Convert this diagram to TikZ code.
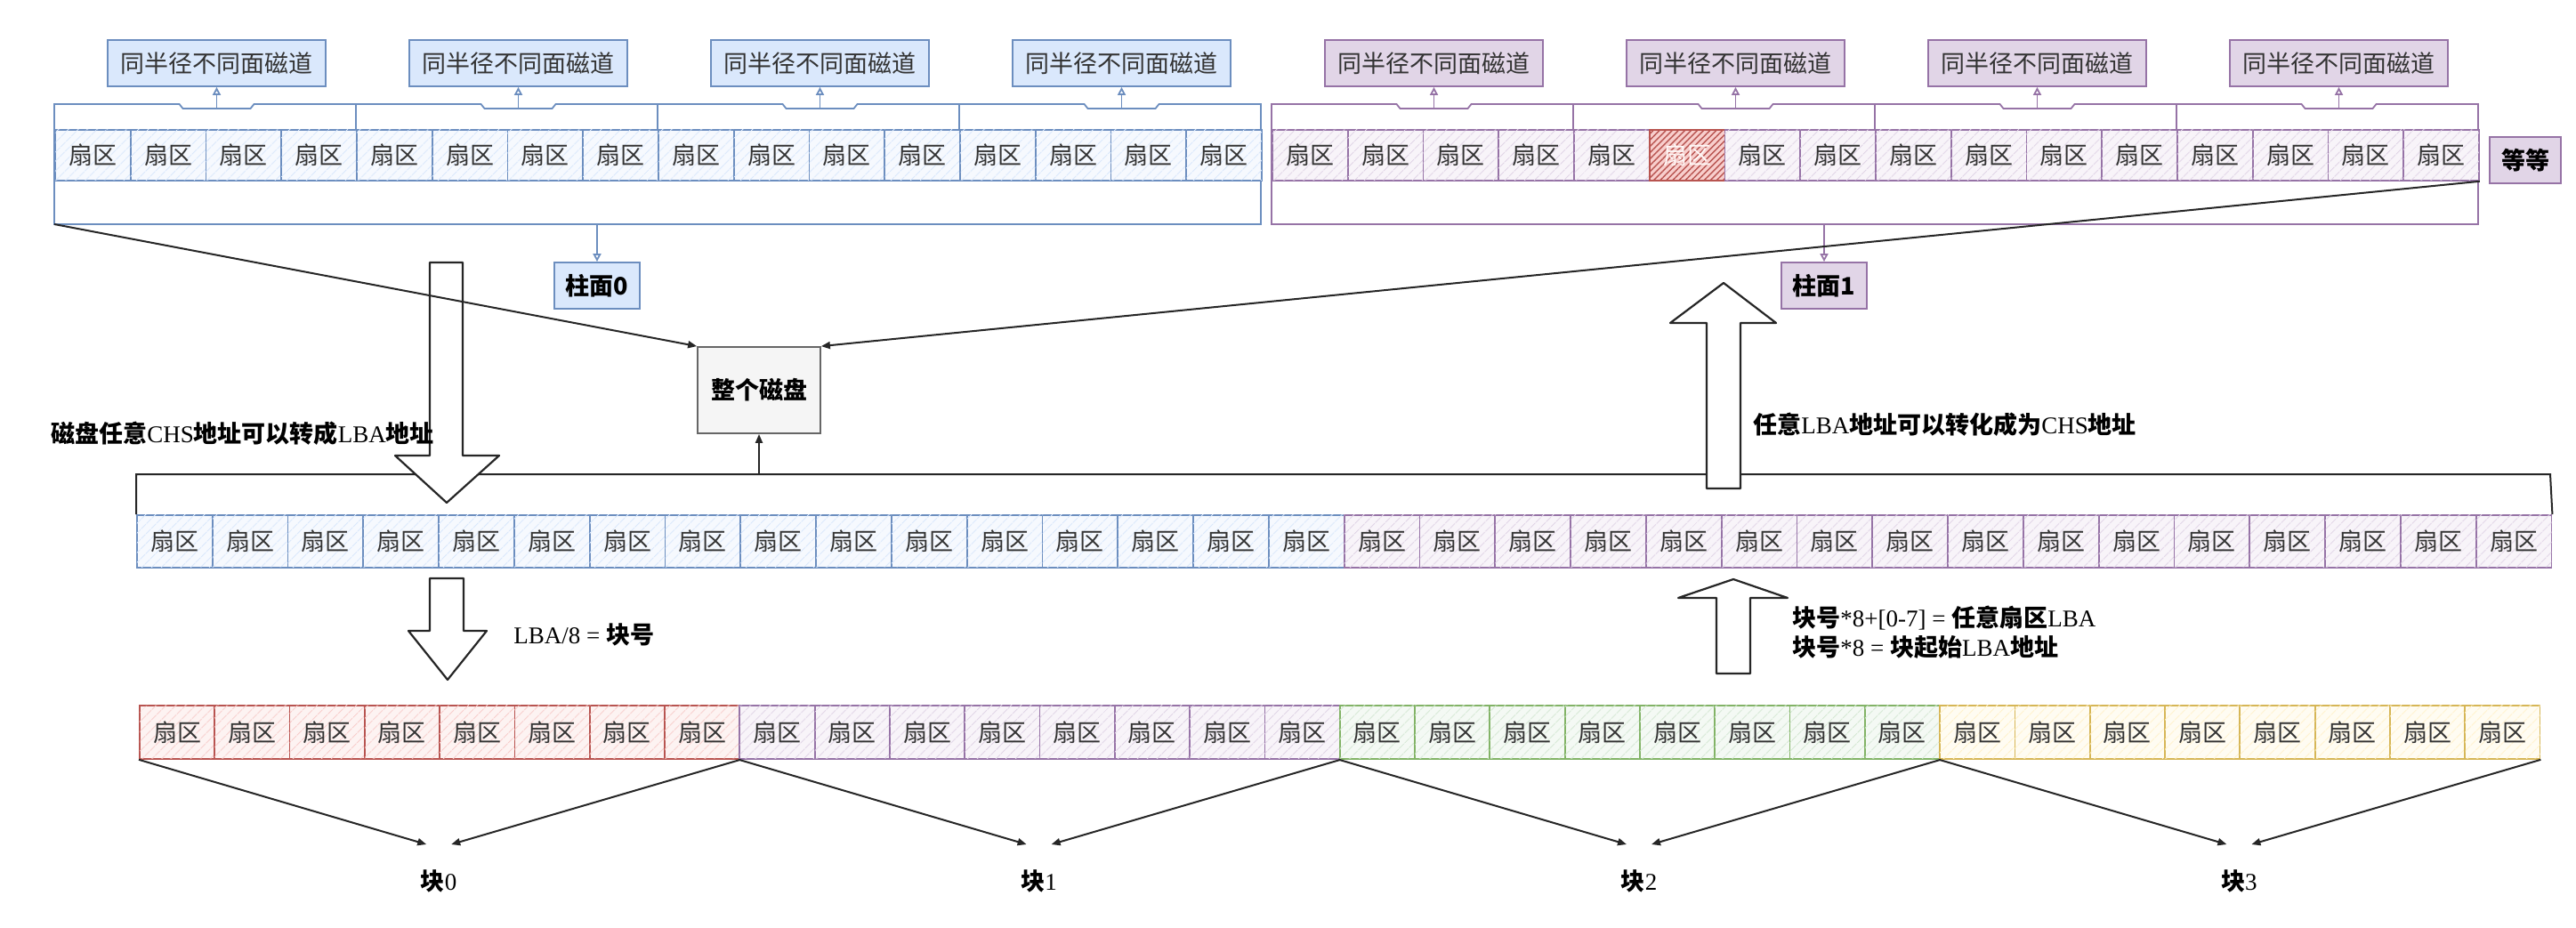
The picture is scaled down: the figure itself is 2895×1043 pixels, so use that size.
\documentclass[tikz,border=0pt]{standalone}
\usepackage{fontspec}
\setmainfont{Liberation Serif}
\newfontfamily\cjk{Noto Sans CJK SC}
\usetikzlibrary{arrows.meta,patterns.meta}

\definecolor{Fblue}{HTML}{DAE8FC}   \definecolor{Lblue}{HTML}{6C8EBF}
\definecolor{Fpurple}{HTML}{E1D5E7} \definecolor{Lpurple}{HTML}{9673A6}
\definecolor{Fred}{HTML}{F8CECC}    \definecolor{Lred}{HTML}{B85450}
\definecolor{Fgreen}{HTML}{D5E8D4}  \definecolor{Lgreen}{HTML}{82B366}
\definecolor{Fyellow}{HTML}{FFF2CC} \definecolor{Lyellow}{HTML}{D6B656}
\definecolor{Fgrey}{HTML}{F5F5F5}   \definecolor{Lgrey}{HTML}{666666}

\newcommand\zh[1]{{\cjk\bfseries #1}}

\tikzset{
  sector/.style={draw=L#1, line width=0.9pt, fill=F#1!25,
    postaction={pattern={Lines[angle=45, distance=4pt, line width=0.6pt]},
      pattern color=F#1},
    anchor=north west, inner sep=0pt, text=black!80,
    font=\cjk\fontsize{13.5}{14}\selectfont},
  hotsector/.style={draw=Lred, line width=1.2pt, fill=Fred,
    postaction={pattern={Lines[angle=45, distance=2.5pt, line width=0.7pt]},
      pattern color=Lred},
    anchor=north west, inner sep=0pt, text=white!85!Fred,
    font=\cjk\fontsize{13.5}{14}\selectfont},
  tag/.style={draw=L#1, fill=F#1, line width=0.9pt, inner sep=0pt,
    minimum width=122.5pt, minimum height=26pt, text=black!80,
    font=\cjk\fontsize{13.5}{14}\selectfont},
  cylbox/.style={draw=L#1, fill=F#1, line width=0.9pt, inner sep=0pt,
    minimum width=48pt, minimum height=26pt,
    font=\cjk\bfseries\fontsize{13.5}{14}\selectfont},
  diskbox/.style={draw=Lgrey, fill=Fgrey, line width=0.9pt, inner sep=0pt,
    minimum width=69pt, minimum height=48.5pt,
    font=\cjk\bfseries\fontsize{13.5}{14}\selectfont},
  outline/.style={draw=L#1, line width=0.9pt},
  tagarrow/.style={draw=L#1, line width=0.9pt, -{Triangle[open,length=4.5pt,width=4.5pt]}},
  link/.style={draw=black!85, line width=1pt, -{Triangle[length=5pt,width=4pt]}},
  bracket/.style={draw=black!85, line width=1pt},
  hollow/.style={draw=black!85, fill=white, line width=1.1pt, line join=round},
  note/.style={inner sep=0pt, align=left, anchor=west,
    font=\fontsize{13.5}{16.5}\selectfont},
}

\begin{document}
\begin{tikzpicture}[x=0.5pt, y=-0.5pt]
    \useasboundingbox (0,0) rectangle (2895,1043);

    % cylinders 0 and 1: four tracks of four sectors each
    \foreach \cyl/\L/\col/\hot in {0/61/blue/-1, 1/1429/purple/5} {
        \draw[outline=\col] (\L,117) -- (\L,252) -- (\L+1356,252) -- (\L+1356,117);
        \foreach \g in {0,...,3} {
            \pgfmathsetmacro\gx{\L+339*\g}
            \pgfmathsetmacro\tx{\gx+182.5}
            \draw[outline=\col] (\gx,145) -- (\gx,117) -- (\tx-42,117) -- (\tx-38,122)
                -- (\tx+38,122) -- (\tx+42,117) -- (\gx+339,117) -- (\gx+339,145);
            \node[tag=\col] (t\cyl\g) at (\tx,71) {同半径不同面磁道};
            \coordinate (n\cyl\g) at (\tx,122);
            \draw[tagarrow=\col] (n\cyl\g) -- (t\cyl\g);
        }
        \foreach \k in {0,...,15} {
            \ifnum\k=\hot\relax
                \node[hotsector, minimum width=42.375pt, minimum height=28.5pt]
                    (c\cyl s\k) at (\L+84.75*\k,145) {扇区};
            \else
                \node[sector=\col, minimum width=42.375pt, minimum height=28.5pt]
                    (c\cyl s\k) at (\L+84.75*\k,145) {扇区};
            \fi
        }
    }

    \node[cylbox=blue] (z0) at (671,321) {柱面0};
    \coordinate (zt0) at (671,252);
    \draw[tagarrow=blue] (zt0) -- (z0);
    \node[cylbox=purple] (z1) at (2050,321) {柱面1};
    \coordinate (zt1) at (2050,252);
    \draw[tagarrow=purple] (zt1) -- (z1);
    \node[cylbox=purple, minimum width=40pt] (etc) at (2838,180) {等等};

    \node[diskbox] (disk) at (853,438.5) {整个磁盘};

    % LBA row
    \foreach \k in {0,...,31} {
        \ifnum\k<16 \def\col{blue}\else\def\col{purple}\fi
        \node[sector=\col, minimum width=42.4pt, minimum height=29.5pt]
            (r\k) at (153+84.8*\k,578) {扇区};
    }
    \coordinate (brl) at (153,533);
    \coordinate (brr) at (2866,533);
    \coordinate (brm) at (853,533);
    \draw[bracket] (r0.north west) -- (brl) -- (brr) -- (r31.north east);
    \draw[link] (brm) -- (disk);

    % block row
    \foreach \bk/\col in {0/red, 1/purple, 2/green, 3/yellow} {
        \foreach \s in {0,...,7} {
            \node[sector=\col, minimum width=42.15pt, minimum height=30pt]
                (blk\bk s\s) at (156+674.4*\bk+84.3*\s,792) {扇区};
        }
        \node[note, anchor=center] (b\bk) at (493.2+674.4*\bk,990) {\zh{块}\bk};
        \coordinate (bl\bk) at (479.2+674.4*\bk,949);
        \coordinate (br\bk) at (507.2+674.4*\bk,949);
    }

    % hollow arrows
    \draw[hollow] (483,295) -- (520,295) -- (520,512) -- (561,512) -- (502,565)
        -- (444,512) -- (483,512) -- cycle;
    \draw[hollow] (483,650) -- (521,650) -- (521,709) -- (547,709) -- (503,764)
        -- (459,709) -- (483,709) -- cycle;
    \draw[hollow] (1918,549) -- (1918,363) -- (1877,363) -- (1937,318) -- (1996,363)
        -- (1956,363) -- (1956,549) -- cycle;
    \draw[hollow] (1929,757) -- (1929,672) -- (1886,672) -- (1948,651) -- (2009,672)
        -- (1967,672) -- (1967,757) -- cycle;

    \coordinate (cyl0sw) at (61,252);
    \draw[link] (cyl0sw) -- (disk.north west);
    \draw[link] (c1s15.south east) -- (disk.north east);
    \foreach \bk in {0,...,3} {
        \draw[link] (blk\bk s0.south west) -- (bl\bk);
        \draw[link] (blk\bk s7.south east) -- (br\bk);
    }

    \node[note] (chs2lba) at (57,487) {\zh{磁盘任意}CHS\zh{地址可以转成}LBA\zh{地址}};
    \node[note] (lba2chs) at (1970,477) {\zh{任意}LBA\zh{地址可以转化成为}CHS\zh{地址}};
    \node[note] (div8) at (577,713) {LBA/8 = \zh{块号}};
    \node[note] (mul8) at (2014,711) {\zh{块号}*8+[0-7] = \zh{任意扇区}LBA\\
        \zh{块号}*8 = \zh{块起始}LBA\zh{地址}};
\end{tikzpicture}
\end{document}
